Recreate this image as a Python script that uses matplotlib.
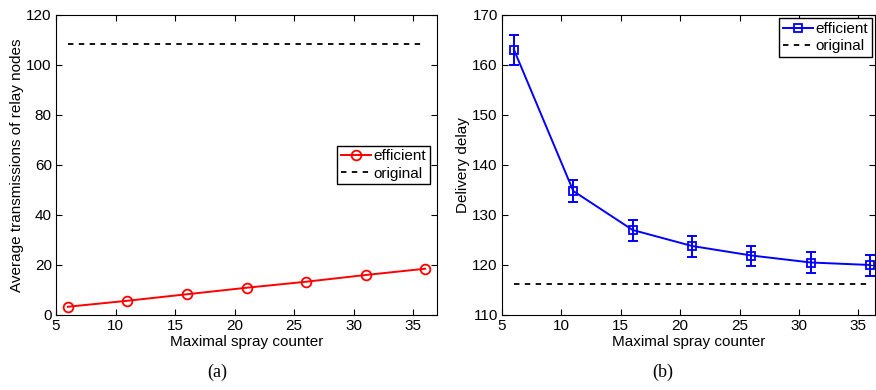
import matplotlib.pyplot as plt

plt.rcParams['font.family'] = 'Liberation Sans'
plt.rcParams['font.size'] = 11

counter = [6, 11, 16, 21, 26, 31, 36]

# (a) transmissions
trans_efficient = [3.3, 5.7, 8.3, 10.9, 13.3, 16.0, 18.5]
trans_original = 108.4

# (b) delay
delay_efficient = [163.1, 134.8, 127.0, 123.8, 121.9, 120.5, 120.0]
delay_err = [3.0, 2.2, 2.1, 2.1, 2.0, 2.1, 2.1]
delay_original = 116.2

fig = plt.figure(figsize=(8.76, 3.9), dpi=100)
ax1 = fig.add_axes([56/876, 75/390, 381/876, 300/390])
ax2 = fig.add_axes([502/876, 75/390, 373/876, 300/390])

leg_kw = dict(fancybox=False, edgecolor='black', framealpha=1, handlelength=2.0,
              handletextpad=0.15, borderpad=0.25, labelspacing=0.2, borderaxespad=0.2)
dash = (0, (3, 3))

ax1.plot(counter, trans_efficient, 'r-o', mfc='none', ms=7, lw=1.4, mew=1.3, label='efficient')
ax1.plot([counter[0], counter[-1]], [trans_original]*2, color='k', ls=dash, lw=1.3, label='original')
ax1.set_xlim(5, 37)
ax1.set_ylim(0, 120)
ax1.set_xticks(range(5, 36, 5))
ax1.set_yticks(range(0, 121, 20))
ax1.set_xlabel('Maximal spray counter', labelpad=1)
ax1.set_ylabel('Average transmissions of relay nodes', labelpad=2)
ax1.legend(loc='center right', bbox_to_anchor=(0.99, 0.5), **leg_kw)

ax2.errorbar(counter, delay_efficient, yerr=delay_err, fmt='none', ecolor='b',
             elinewidth=1.4, capsize=3.5, capthick=1.4)
h1, = ax2.plot(counter, delay_efficient, 'b-s', mfc='none', ms=6, lw=1.4, mew=1.3, label='efficient')
h2, = ax2.plot([counter[0], counter[-1]], [delay_original]*2, color='k', ls=dash, lw=1.3, label='original')
ax2.set_xlim(5, 36.4)
ax2.set_ylim(110, 170)
ax2.set_xticks(range(5, 36, 5))
ax2.set_yticks(range(110, 171, 10))
ax2.set_xlabel('Maximal spray counter', labelpad=1)
ax2.set_ylabel('Delivery delay', labelpad=2)
ax2.legend(handles=[h1, h2], loc='upper right', **leg_kw)

for ax in (ax1, ax2):
    ax.tick_params(direction='in', top=True, right=True, length=4, pad=3)
    for s in ax.spines.values():
        s.set_linewidth(0.8)

fig.text(217/876, 1 - 372/390, '(a)', ha='center', va='center',
         family='Liberation Serif', fontsize=13)
fig.text(663/876, 1 - 372/390, '(b)', ha='center', va='center',
         family='Liberation Serif', fontsize=13)

fig.savefig('out.png', dpi=100)
